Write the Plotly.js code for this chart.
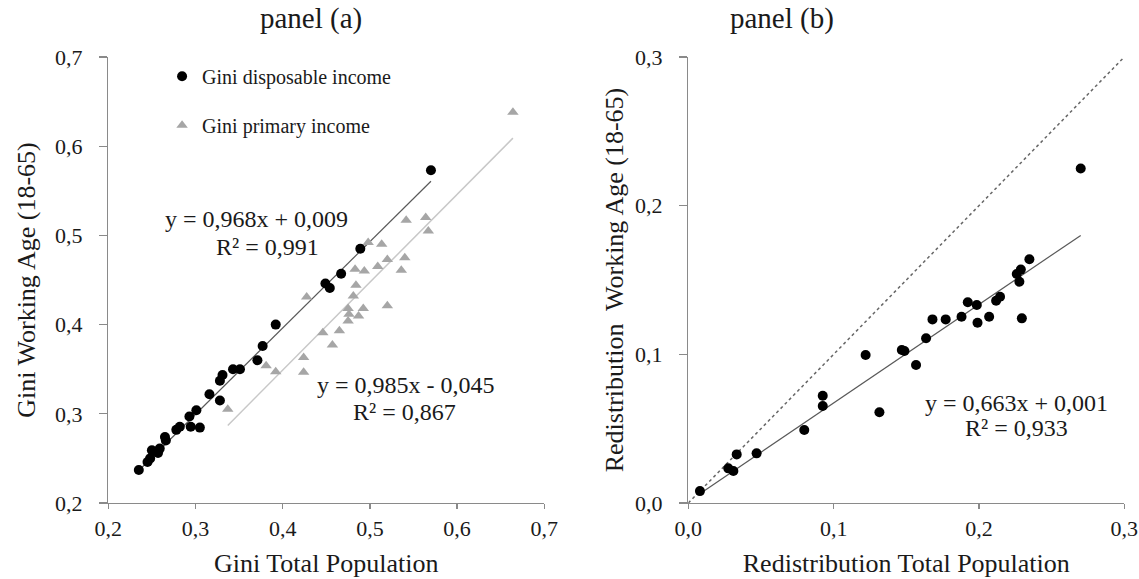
<!DOCTYPE html>
<html>
<head>
<meta charset="utf-8">
<script src="https://cdn.plot.ly/plotly-3.0.1.min.js"></script>
<style>html,body{margin:0;padding:0;background:#fff;}#chart{width:1139px;height:579px;}</style>
</head>
<body>
<div id="chart"></div>
<script>
// Panel (a): Gini disposable income (total population vs working age)
const dispX = [0.235,0.245,0.248,0.250,0.257,0.259,0.265,0.266,0.278,0.282,0.2945,0.293,0.305,0.301,0.316,0.328,0.328,0.331,0.343,0.351,0.371,0.377,0.392,0.449,0.454,0.467,0.489,0.570];
const dispY = [0.237,0.246,0.250,0.259,0.256,0.261,0.274,0.270,0.282,0.2855,0.2855,0.297,0.2845,0.304,0.322,0.315,0.337,0.3435,0.350,0.350,0.360,0.376,0.400,0.446,0.441,0.457,0.485,0.573];
// Panel (a): Gini primary income
const primX = [0.337,0.381,0.392,0.424,0.424,0.4275,0.446,0.457,0.465,0.475,0.475,0.476,0.481,0.484,0.487,0.4924,0.483,0.4936,0.498,0.509,0.5135,0.520,0.520,0.536,0.540,0.5416,0.564,0.567,0.664];
const primY = [0.305,0.354,0.347,0.363,0.3465,0.431,0.391,0.377,0.393,0.418,0.404,0.4115,0.432,0.444,0.4096,0.418,0.462,0.460,0.492,0.465,0.490,0.473,0.421,0.461,0.475,0.517,0.520,0.505,0.638];
// Panel (b): redistribution
const redX = [0.008,0.0275,0.031,0.0333,0.047,0.0798,0.0925,0.0925,0.122,0.1315,0.1567,0.1469,0.1487,0.1636,0.168,0.1771,0.188,0.1923,0.1985,0.199,0.207,0.2118,0.2145,0.2295,0.226,0.2288,0.2278,0.2347,0.270];
const redY = [0.008,0.0233,0.0215,0.0327,0.0334,0.0491,0.0722,0.0652,0.0995,0.061,0.0928,0.1029,0.1022,0.1108,0.1235,0.1235,0.1253,0.135,0.1332,0.1213,0.1253,0.136,0.1387,0.1242,0.154,0.157,0.1488,0.164,0.225];
// Trend line coefficients [slope, intercept]
const trendDisp = [0.968, 0.009];
const trendPrim = [0.985, -0.045];
const trendRed = [0.663, 0.001];
const diagRange = [0, 0.3];
const ticksA = [0.2,0.3,0.4,0.5,0.6,0.7];
const ticksB = [0.0,0.1,0.2,0.3];

function line(xs, c){
  const lo = Math.min(...xs), hi = Math.max(...xs);
  return {x:[lo,hi], y:[c[0]*lo+c[1], c[0]*hi+c[1]]};
}
const FONT = 'Liberation Serif, Times New Roman, serif';
const TXT = '#1a1a1a';
const AX = '#8a8a8a';

const lD = line(dispX, trendDisp), lP = line(primX, trendPrim), lR = line(redX, trendRed);

const traces = [
  {x:lD.x, y:lD.y, mode:'lines', line:{color:'#595959', width:1.2}, showlegend:false, hoverinfo:'skip', xaxis:'x', yaxis:'y'},
  {x:lP.x, y:lP.y, mode:'lines', line:{color:'#c8c8c8', width:1.5}, showlegend:false, hoverinfo:'skip', xaxis:'x', yaxis:'y'},
  {x:primX, y:primY, mode:'markers', name:'Gini primary income', legendgroup:'p', legendrank:2,
   marker:{symbol:'triangle-up', size:10, color:'#a6a6a6'}, xaxis:'x', yaxis:'y'},
  {x:dispX, y:dispY, mode:'markers', name:'Gini disposable income', legendgroup:'d', legendrank:1,
   marker:{symbol:'circle', size:10, color:'#000000'}, xaxis:'x', yaxis:'y'},
  {x:diagRange, y:diagRange, mode:'lines', line:{color:'#666666', width:1.5, dash:'3px,3px'}, showlegend:false, hoverinfo:'skip', xaxis:'x2', yaxis:'y2'},
  {x:lR.x, y:lR.y, mode:'lines', line:{color:'#595959', width:1.2}, showlegend:false, hoverinfo:'skip', xaxis:'x2', yaxis:'y2'},
  {x:redX, y:redY, mode:'markers', showlegend:false, marker:{symbol:'circle', size:10, color:'#000000'}, xaxis:'x2', yaxis:'y2'}
];

const axBase = {showline:true, linecolor:AX, linewidth:1.3, showgrid:false, zeroline:false,
  ticks:'outside', tickcolor:AX, tickwidth:1.3, tickformat:'.1f',
  tickfont:{family:FONT, size:22, color:TXT}};
const TF = {family:FONT, size:26, color:TXT};
const EQ = {family:FONT, size:24, color:TXT};

const layout = {
  width:1139, height:579, margin:{l:0,r:0,t:0,b:0},
  paper_bgcolor:'#fff', plot_bgcolor:'#fff',
  separators:',.',
  font:{family:FONT, color:TXT},
  xaxis: Object.assign({}, axBase, {domain:[0.09508,0.47788], range:[0.2,0.7], tickvals:ticksA, ticklen:5, ticklabelstandoff:0,
    title:{text:'Gini Total Population', font:TF, standoff:14}}),
  yaxis: Object.assign({}, axBase, {domain:[0.13126,0.90155], range:[0.2,0.7], tickvals:ticksA, ticklen:8, ticklabelstandoff:12,
    title:{text:'Gini Working Age (18-65)', font:TF, standoff:12}}),
  xaxis2: Object.assign({}, axBase, {domain:[0.6043,0.9871], range:[0,0.3], tickvals:ticksB, ticklen:5, ticklabelstandoff:0, anchor:'y2',
    title:{text:'Redistribution Total Population', font:TF, standoff:14}}),
  yaxis2: Object.assign({}, axBase, {domain:[0.13126,0.90155], range:[0,0.3], tickvals:ticksB, ticklen:8, ticklabelstandoff:12, anchor:'x2',
    title:{text:'Redistribution&nbsp; Working Age (18-65)', font:TF, standoff:4}}),
  showlegend:true,
  legend:{x:0.1423, y:0.902, xanchor:'left', yanchor:'top', bgcolor:'rgba(0,0,0,0)',
    font:{family:FONT, size:20, color:TXT}, tracegroupgap:20, traceorder:'grouped'},
  annotations:[
    {xref:'paper', yref:'paper', x:258/1139, y:1, xanchor:'left', yanchor:'top', showarrow:false, text:'panel (a)', font:{family:FONT,size:29,color:TXT}},
    {xref:'paper', yref:'paper', x:728/1139, y:1, xanchor:'left', yanchor:'top', showarrow:false, text:'panel (b)', font:{family:FONT,size:29,color:TXT}},
    {xref:'x', yref:'y', x:0.3705, y:0.5184, showarrow:false, text:'y = 0,968x + 0,009', font:EQ},
    {xref:'x', yref:'y', x:0.383, y:0.487, showarrow:false, text:'R² = 0,991', font:EQ},
    {xref:'x', yref:'y', x:0.541, y:0.3323, showarrow:false, text:'y = 0,985x - 0,045', font:EQ},
    {xref:'x', yref:'y', x:0.540, y:0.302, showarrow:false, text:'R² = 0,867', font:EQ},
    {xref:'x2', yref:'y2', x:0.2255, y:0.0672, showarrow:false, text:'y = 0,663x + 0,001', font:EQ},
    {xref:'x2', yref:'y2', x:0.2255, y:0.0504, showarrow:false, text:'R² = 0,933', font:EQ}
  ]
};

Plotly.newPlot('chart', traces, layout, {staticPlot:true, displayModeBar:false});
</script>
</body>
</html>
